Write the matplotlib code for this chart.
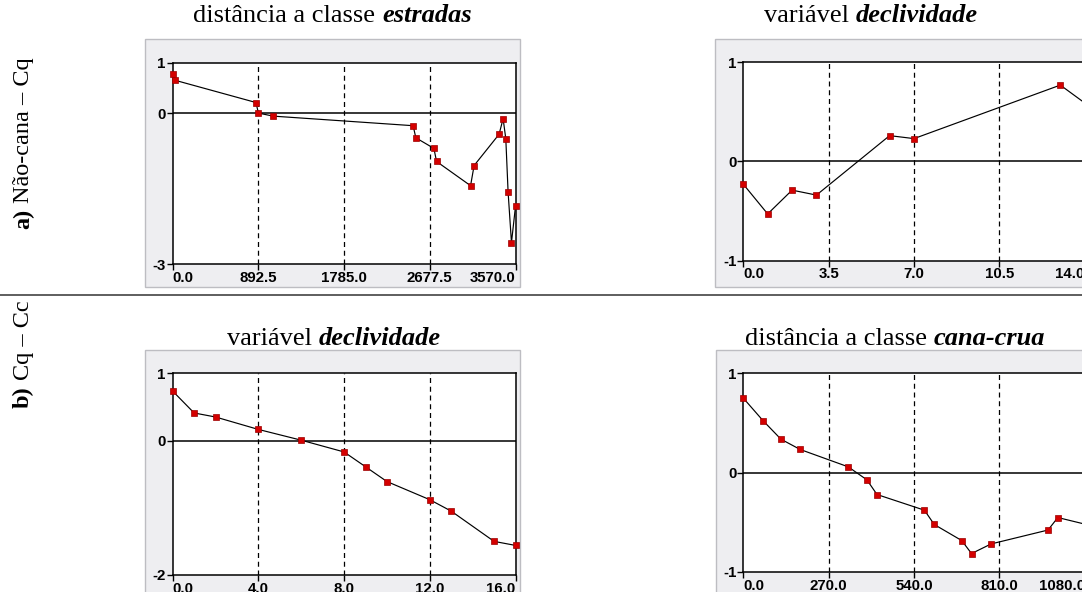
import matplotlib
matplotlib.use("Agg")
import matplotlib.pyplot as plt
import matplotlib.patches as mpatches
from matplotlib.lines import Line2D

W, H = 1082, 592

# a) Nao-cana - Cq : distancia a classe estradas
estr_x = [0, 27, 867, 892.5, 1047, 2504, 2532, 2720, 2748, 3102, 3139,
          3399, 3441, 3469, 3493, 3528, 3570]
estr_y = [0.78, 0.65, 0.21, 0.0, -0.06, -0.25, -0.49, -0.70, -0.96, -1.44,
          -1.04, -0.42, -0.11, -0.51, -1.57, -2.57, -1.85]
estr_xticks = [0, 892.5, 1785, 2677.5, 3570]
estr_yticks = [-3, 0, 1]

# a) Nao-cana - Cq : variavel declividade
decl_a_x = [0, 1, 2, 3, 6, 7, 13, 14]
decl_a_y = [-0.23, -0.53, -0.29, -0.34, 0.26, 0.23, 0.77, 0.59]
decl_a_xticks = [0, 3.5, 7, 10.5, 14]
decl_a_yticks = [-1, 0, 1]

# b) Cq - Cc : variavel declividade
decl_b_x = [0, 1, 2, 4, 6, 8, 9, 10, 12, 13, 15, 16]
decl_b_y = [0.735, 0.41, 0.35, 0.165, 0.005, -0.17, -0.39, -0.61, -0.88,
            -1.05, -1.50, -1.56]
decl_b_xticks = [0, 4, 8, 12, 16]
decl_b_yticks = [-2, 0, 1]

# b) Cq - Cc : distancia a classe cana-crua
cana_x = [0, 62, 119, 180, 332, 391, 423, 573, 604, 691, 722, 784, 964,
          995, 1080]
cana_y = [0.75, 0.524, 0.336, 0.232, 0.057, -0.074, -0.222, -0.38, -0.524,
          -0.686, -0.817, -0.72, -0.58, -0.454, -0.52]
cana_xticks = [0, 270, 540, 810, 1080]
cana_yticks = [-1, 0, 1]

SERIF = "Liberation Serif"
SANS = "Liberation Sans"


def px_rect(x0, y0, x1, y1):
    return [x0 / W, 1 - y1 / H, (x1 - x0) / W, (y1 - y0) / H]


def gray_panel(fig, x0, y0, x1, y1):
    l, b, w, h = px_rect(x0, y0, x1, y1)
    fig.add_artist(mpatches.Rectangle(
        (l, b), w, h, transform=fig.transFigure, fc="#eeeef1",
        ec="#bdbdc2", lw=1.0, zorder=-5))


def draw_chart(fig, box, xs, ys, xticks, yticks):
    ax = fig.add_axes(px_rect(*box))
    ax.set_facecolor("white")
    ax.set_xlim(xticks[0], xticks[-1])
    ax.set_ylim(yticks[0], yticks[-1])
    for sp in ax.spines.values():
        sp.set_linewidth(1.1)
        sp.set_color("black")
    for xv in xticks[1:-1]:
        ax.axvline(xv, color="black", lw=0.9, ls=(0, (4, 3)), zorder=1)
    ax.axhline(0, color="black", lw=1.1, zorder=1)
    ax.plot(xs, ys, color="black", lw=0.85, zorder=2, clip_on=False)
    ax.plot(xs, ys, ls="none", marker="s", ms=4.0, mfc="#d40000",
            mec="#9a0000", mew=0.5, zorder=3, clip_on=False)

    ax.set_xticks(xticks)
    ax.set_xticklabels([f"{v:.1f}" for v in xticks])
    ax.set_yticks(yticks)
    ax.set_yticklabels([f"{v:d}" for v in yticks])
    ax.tick_params(axis="both", direction="out", length=4, width=1.0,
                   color="black", labelsize=10.8, pad=1)
    for lab in ax.get_xticklabels() + ax.get_yticklabels():
        lab.set_fontweight("bold")
        lab.set_family(SANS)
    xl = ax.get_xticklabels()
    xl[0].set_ha("left")
    xl[-1].set_ha("right")
    return ax


def rich_text(fig, cx, cy, parts, size, rotation=0):
    """Centre a run of differently styled pieces at pixel (cx, cy = baseline)."""
    r = fig.canvas.get_renderer()
    probe1 = fig.text(0, 0, "x x", fontsize=size, family=SERIF)
    probe2 = fig.text(0, 0, "xx", fontsize=size, family=SERIF)
    gap = probe1.get_window_extent(r).width - probe2.get_window_extent(r).width
    probe1.remove()
    probe2.remove()

    arts = []
    for txt, kw in parts:
        arts.append(fig.text(0, 0, txt, fontsize=size, family=SERIF,
                             rotation=rotation, rotation_mode="anchor",
                             ha="left", va="baseline", **kw))
    lengths = []
    for a in arts:
        ext = a.get_window_extent(r)
        lengths.append(ext.height if rotation else ext.width)
    total = sum(lengths) + gap * (len(arts) - 1)

    pos = (cy if rotation else cx)
    start = pos + total / 2 if rotation else pos - total / 2
    for a, ln in zip(arts, lengths):
        if rotation:
            a.set_position((cx / W, 1 - start / H))
            start -= ln + gap
        else:
            a.set_position((start / W, 1 - cy / H))
            start += ln + gap


fig = plt.figure(figsize=(W / 100, H / 100), dpi=100, facecolor="white")

gray_panel(fig, 145, 39, 520, 287)
gray_panel(fig, 715, 39, 1095, 287)
gray_panel(fig, 145, 350, 520, 610)
gray_panel(fig, 716, 350, 1095, 610)

draw_chart(fig, (172.7, 62.7, 515.5, 264.3), estr_x, estr_y,
           estr_xticks, estr_yticks)
draw_chart(fig, (743.3, 62.3, 1084.7, 260.5), decl_a_x, decl_a_y,
           decl_a_xticks, decl_a_yticks)
draw_chart(fig, (172.7, 373.3, 515.5, 575), decl_b_x, decl_b_y,
           decl_b_xticks, decl_b_yticks)
draw_chart(fig, (743.3, 373.3, 1084.7, 571.7), cana_x, cana_y,
           cana_xticks, cana_yticks)

bi = dict(fontweight="bold", style="italic")
rich_text(fig, 332.5, 22, [("distância a classe", {}), ("estradas", bi)], 19)
rich_text(fig, 871, 22, [("variável", {}), ("declividade", bi)], 19)
rich_text(fig, 334, 345, [("variável", {}), ("declividade", bi)], 19)
rich_text(fig, 895, 345, [("distância a classe", {}), ("cana-crua", bi)], 19)

rich_text(fig, 29, 143, [("a)", dict(fontweight="bold")),
                         ("Não-cana – Cq", {})], 17.5, rotation=90)
rich_text(fig, 29, 354, [("b)", dict(fontweight="bold")),
                         ("Cq – Cc", {})], 17.5, rotation=90)

fig.add_artist(Line2D([0, 1], [1 - 295 / H, 1 - 295 / H],
                      transform=fig.transFigure, color="#333333", lw=1.1))

fig.savefig("out.png", dpi=100, facecolor="white")
